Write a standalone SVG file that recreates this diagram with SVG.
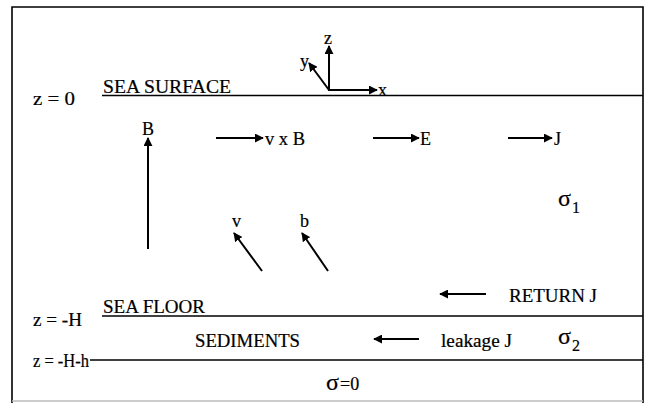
<svg xmlns="http://www.w3.org/2000/svg" width="646" height="403" viewBox="0 0 646 403">
<defs>
<marker id="ah" viewBox="0 0 10 10" refX="9" refY="5" markerWidth="4.5" markerHeight="4.5" markerUnits="strokeWidth" orient="auto">
<path d="M0,0 L10,5 L0,10 z" fill="#000"/>
</marker>
<style>
text{font-family:"Liberation Serif","Times New Roman",serif;font-size:18px;fill:#000;stroke:#000;stroke-width:0.2}
.big{font-size:24px}
.sub{font-size:16px}
.ln{stroke:#000;stroke-width:1.6;fill:none}
.ar{stroke:#000;stroke-width:2;fill:none;marker-end:url(#ah)}
</style>
</defs>
<rect width="646" height="403" fill="#fff"/>
<g id="frame">
<path class="ln" d="M12,403 V7 H643 V403" stroke-width="2"/>
<line x1="12" y1="401" x2="643" y2="401" stroke="#bbb" stroke-width="1.5"/>
</g>
<g id="layers">
<line class="ln" x1="102" y1="95.5" x2="643" y2="95.5"/>
<line class="ln" x1="102" y1="316" x2="643" y2="316"/>
<line class="ln" x1="90" y1="360" x2="643" y2="360"/>
</g>
<g id="labels">
<text x="33" y="105" textLength="42" lengthAdjust="spacingAndGlyphs">z = 0</text>
<text x="103" y="93" textLength="128" lengthAdjust="spacingAndGlyphs">SEA SURFACE</text>
<text x="103" y="313" textLength="102" lengthAdjust="spacingAndGlyphs">SEA FLOOR</text>
<text x="33" y="326" textLength="49" lengthAdjust="spacingAndGlyphs">z = -H</text>
<text x="33" y="367" textLength="56" lengthAdjust="spacingAndGlyphs">z = -H-h</text>
<text x="195" y="347" textLength="105" lengthAdjust="spacingAndGlyphs">SEDIMENTS</text>
<text x="326" y="390" class="big">σ</text>
<text x="340" y="390" font-size="14">=0</text>
</g>
<g id="axes">
<line class="ar" x1="329" y1="91" x2="329" y2="46"/>
<line class="ar" x1="328" y1="90" x2="377" y2="90"/>
<line class="ar" x1="329" y1="90" x2="309" y2="63"/>
<text x="324" y="44">z</text>
<text x="378" y="96">x</text>
<text x="300" y="67">y</text>
</g>
<g id="node-B">
<text x="142" y="135">B</text>
</g>
<g id="node-vxB">
<text x="265" y="145" textLength="40" lengthAdjust="spacingAndGlyphs">v x B</text>
</g>
<g id="node-E">
<text x="420" y="145">E</text>
</g>
<g id="node-J">
<text x="554" y="145">J</text>
</g>
<g id="node-sigma1">
<text x="558" y="206" class="big">σ</text>
<text x="572" y="213" class="sub">1</text>
</g>
<g id="node-v">
<text x="232" y="227">v</text>
</g>
<g id="node-b">
<text x="300" y="227">b</text>
</g>
<g id="node-returnJ">
<text x="509" y="302" textLength="88" lengthAdjust="spacingAndGlyphs">RETURN J</text>
</g>
<g id="node-leakageJ">
<text x="441" y="347" textLength="71" lengthAdjust="spacingAndGlyphs">leakage J</text>
</g>
<g id="node-sigma2">
<text x="558" y="344" class="big">σ</text>
<text x="572" y="351" class="sub">2</text>
</g>
<g id="connectors">
<line class="ar" x1="148" y1="249" x2="148" y2="138"/>
<line class="ar" x1="216" y1="138" x2="263" y2="138"/>
<line class="ar" x1="373" y1="138" x2="419" y2="138"/>
<line class="ar" x1="508" y1="138" x2="552" y2="138"/>
<line class="ar" x1="262" y1="271" x2="234" y2="233"/>
<line class="ar" x1="328" y1="271" x2="302" y2="233"/>
<line class="ar" x1="486" y1="294" x2="440" y2="294"/>
<line class="ar" x1="419" y1="339" x2="374" y2="339"/>
</g>
</svg>
